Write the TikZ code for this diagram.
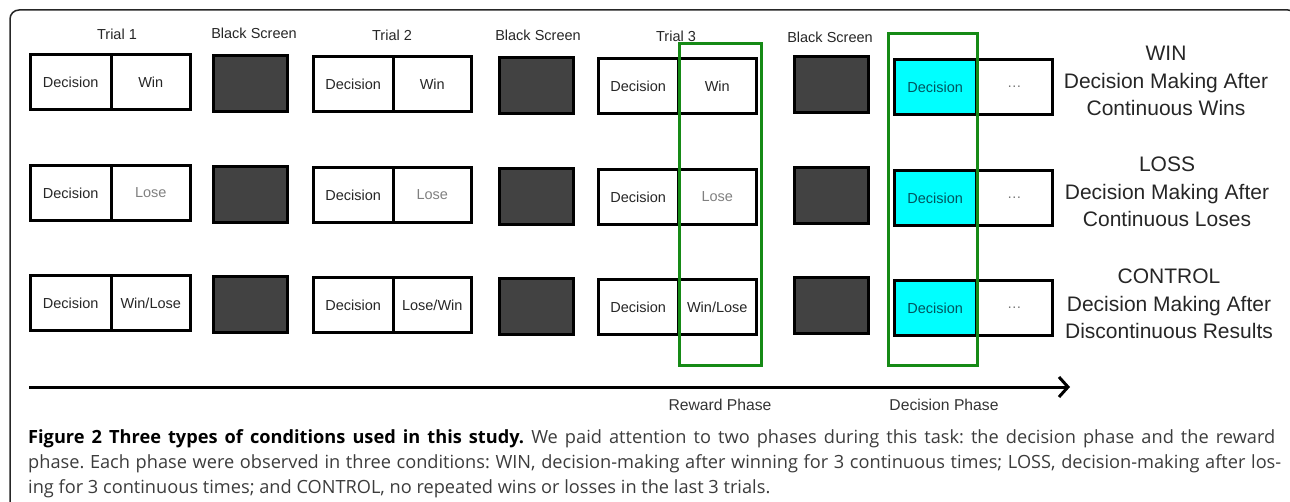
\documentclass[tikz,border=0pt]{standalone}
\usepackage{fontspec}
\setmainfont{Liberation Sans}
\newfontfamily\capfont{Open Sans}
\usepackage{tikz}
\usetikzlibrary{arrows.meta,positioning}

\definecolor{phasegreen}{RGB}{22,138,22}
\definecolor{screengray}{RGB}{66,66,66}
\definecolor{deccyan}{RGB}{0,255,255}
\definecolor{decteal}{RGB}{0,85,95}
\definecolor{captext}{RGB}{60,60,60}

\tikzset{
  cell/.style={draw=black, line width=3pt, outer sep=0pt, inner sep=0pt, minimum height=55pt,
    text=black!85, font=\fontsize{14.5}{17}\selectfont},
  screen/.style={draw=black, line width=3pt, outer sep=0pt, fill=screengray, minimum width=74pt, minimum height=56pt},
  toplabel/.style={text=black!85, font=\fontsize{14.5}{17}\selectfont},
  phaselabel/.style={text=black!80, font=\fontsize{15.7}{18}\selectfont},
  condlabel/.style={align=center, inner sep=0pt, text=black!85, font=\fontsize{21}{27.5}\selectfont},
  phasebox/.style={draw=phasegreen, line width=3pt},
  capline/.style={anchor=base west, inner sep=0pt, text=captext, font=\capfont\fontsize{18.2}{20}\selectfont\frenchspacing}
}

\begin{document}
\begin{tikzpicture}[x=1pt, y=-1pt]
    \useasboundingbox (0,0) rectangle (1290,502);
    \clip (0,0) rectangle (1290,502);

    % Frame
    \draw[line width=1.5pt, black!85, rounded corners=9pt] (10,520) -- (10,10) -- (1297,10) -- (1297,520);

    % Column titles
    \node[toplabel] (trial1) at (117,34) {Trial 1};
    \node[toplabel] (scr1) at (254,33) {Black Screen};
    \node[toplabel] (trial2) at (392,35) {Trial 2};
    \node[toplabel] (scr2) at (538,35) {Black Screen};
    \node[toplabel] (trial3) at (676,36) {Trial 3};
    \node[toplabel] (scr3) at (830,37) {Black Screen};

    % Three conditions, one row each
    \foreach \r/\dy/\ra/\rb/\rc/\rcol in {a/0/Win/Win/Win/black!85,
        b/111/Lose/Lose/Lose/black!50,
        c/221/{Win/Lose}/{Lose/Win}/{Win/Lose}/black!85} {
      \node[cell, anchor=north east, minimum width=80.5pt] (dec1\r) at (111,54.5+\dy) {Decision};
      \node[cell, right=0pt of dec1\r, minimum width=79.5pt, text=\rcol] (res1\r) {\ra};
      \node[screen, anchor=north west] (blk1\r) at (213.5,55.5+\dy) {};
      \node[cell, anchor=north east, minimum width=79.5pt] (dec2\r) at (393,56.5+\dy) {Decision};
      \node[cell, right=0pt of dec2\r, minimum width=78.5pt, text=\rcol] (res2\r) {\rb};
      \node[screen, anchor=north west] (blk2\r) at (499.5,57.5+\dy) {};
      \node[cell, anchor=north east, minimum width=79.5pt] (dec3\r) at (678,58.5+\dy) {Decision};
      \node[cell, right=0pt of dec3\r, minimum width=78.5pt, text=\rcol] (res3\r) {\rc};
      \node[screen, anchor=north west] (blk3\r) at (794.5,56.5+\dy) {};
      \node[cell, anchor=north east, minimum width=81.5pt, fill=deccyan, text=decteal] (dec4\r) at (976,59.5+\dy) {Decision};
      \node[cell, right=0pt of dec4\r, minimum width=76.5pt, text=black!55] (more\r) {\ldots};
    }

    % Reward and decision phases
    \draw[phasebox] (679.5,43.5) rectangle (761.5,365.5);
    \draw[phasebox] (888,33.5) rectangle (977.5,365.5);

    % Condition names
    \node[condlabel] (winlab) at (1166,81) {WIN\\Decision Making After\\Continuous Wins};
    \node[condlabel] (losslab) at (1167,192) {LOSS\\Decision Making After\\Continuous Loses};
    \node[condlabel] (ctrllab) at (1169,304) {CONTROL\\Decision Making After\\Discontinuous Results};

    % Time axis
    \coordinate (tstart) at (29,387);
    \coordinate (tend) at (1070,387);
    \draw[line width=3pt, -{Straight Barb[length=9pt,width=20pt]}] (tstart) -- (tend);
    \node[phaselabel] (rewlab) at (720,405) {Reward Phase};
    \node[phaselabel] (declab) at (944,405) {Decision Phase};

    % Caption
    \node[capline] (cap1) at (28,443) {\makebox[1247pt][s]{\textbf{\color{black}Figure 2 Three types of conditions used in this study.} We paid attention to two phases during this task: the decision phase and the reward}};
    \node[capline] (cap2) at (28,468) {\makebox[1253pt][s]{phase. Each phase were observed in three conditions: WIN, decision-making after winning for 3 continuous times; LOSS, decision-making after los-}};
    \node[capline] (cap3) at (28,493) {ing for 3 continuous times; and CONTROL, no repeated wins or losses in the last 3 trials.};
\end{tikzpicture}
\end{document}
